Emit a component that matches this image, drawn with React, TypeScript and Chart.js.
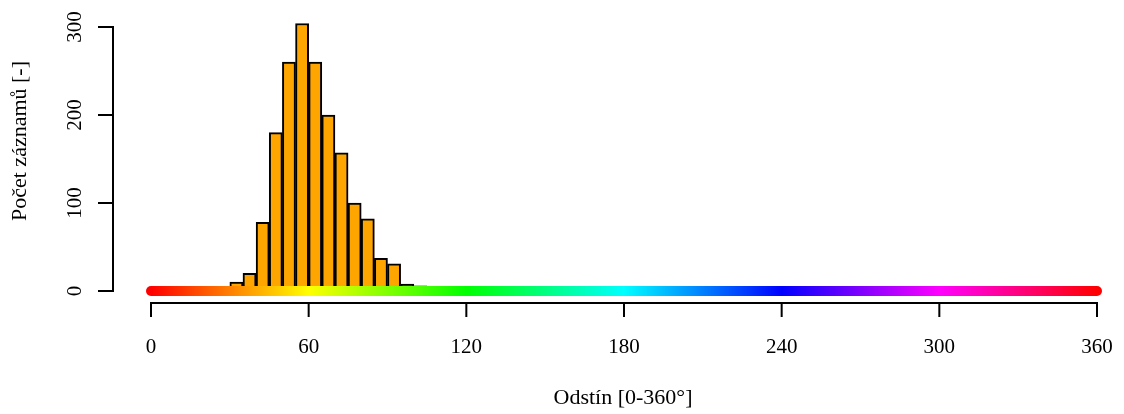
import React, { useEffect, useRef } from "react";
import { Chart, registerables } from "chart.js";

Chart.register(...registerables);

// Histogram bins (hue in degrees, bin width 5) and their counts
const binCenters = [32.5, 37.5, 42.5, 47.5, 52.5, 57.5, 62.5, 67.5, 72.5, 77.5, 82.5, 87.5, 92.5, 97.5, 102.5];
const counts = [10, 20, 78, 180, 260, 304, 260, 200, 157, 100, 82, 37, 31, 8, 6];

// Hue strip along zero
const hueStripX = [0, 360];
const hueStripY = [0, 0];
const hueStops = [0, 60, 120, 180, 240, 300, 360];

// Axis ticks
const xTicks = [0, 60, 120, 180, 240, 300, 360];
const yTicks = [0, 100, 200, 300];

const xTitle = "Odstín [0-360°]";
const yTitle = "Počet záznamů [-]";

const FONT = '21px "Liberation Serif", "Times New Roman", serif';
const TITLE_FONT = '22px "Liberation Serif", "Times New Roman", serif';

const axesPlugin = {
  id: "rAxes",
  afterDraw(chart: any) {
    const ctx = chart.ctx;
    const xs = chart.scales.x;
    const ys = chart.scales.y;
    const area = chart.chartArea;
    ctx.save();
    ctx.strokeStyle = "#000";
    ctx.fillStyle = "#000";
    ctx.lineWidth = 2;
    ctx.lineCap = "square";
    ctx.font = FONT;

    // Y axis
    const yx = area.left;
    const y0 = ys.getPixelForValue(yTicks[0]);
    const y1 = ys.getPixelForValue(yTicks[yTicks.length - 1]);
    ctx.beginPath();
    ctx.moveTo(yx, y0);
    ctx.lineTo(yx, y1);
    yTicks.forEach((t) => {
      const py = ys.getPixelForValue(t);
      ctx.moveTo(yx, py);
      ctx.lineTo(yx - 14, py);
    });
    ctx.stroke();
    ctx.textAlign = "center";
    ctx.textBaseline = "alphabetic";
    yTicks.forEach((t) => {
      const py = ys.getPixelForValue(t);
      ctx.save();
      ctx.translate(81, py);
      ctx.rotate(-Math.PI / 2);
      ctx.fillText(String(t), 0, 0);
      ctx.restore();
    });

    // X axis
    const xy = area.bottom;
    const x0 = xs.getPixelForValue(xTicks[0]);
    const x1 = xs.getPixelForValue(xTicks[xTicks.length - 1]);
    ctx.beginPath();
    ctx.moveTo(x0, xy);
    ctx.lineTo(x1, xy);
    xTicks.forEach((t) => {
      const px = xs.getPixelForValue(t);
      ctx.moveTo(px, xy);
      ctx.lineTo(px, xy + 13);
    });
    ctx.stroke();
    xTicks.forEach((t) => {
      const px = xs.getPixelForValue(t);
      ctx.fillText(String(t), px, 353);
    });

    // Titles
    ctx.font = TITLE_FONT;
    ctx.fillText(xTitle, 623, 404);
    ctx.save();
    ctx.translate(25.5, 141);
    ctx.rotate(-Math.PI / 2);
    ctx.fillText(yTitle, 0, 0);
    ctx.restore();

    ctx.restore();
  },
};

export default function App() {
  const ref = useRef<HTMLCanvasElement | null>(null);

  useEffect(() => {
    if (!ref.current) return;
    const chart = new Chart(ref.current, {
      type: "bar",
      data: {
        datasets: [
          {
            type: "line",
            data: hueStripX.map((x, i) => ({ x, y: hueStripY[i] })),
            borderWidth: 10,
            borderCapStyle: "round",
            pointRadius: 0,
            clip: false,
            order: 0,
            borderColor: (c: any) => {
              const ch = c.chart;
              if (!ch.chartArea) return "red";
              const xs = ch.scales.x;
              const a = xs.getPixelForValue(hueStops[0]);
              const b = xs.getPixelForValue(hueStops[hueStops.length - 1]);
              const g = ch.ctx.createLinearGradient(a, 0, b, 0);
              hueStops.forEach((h) => {
                g.addColorStop((h - hueStops[0]) / (hueStops[hueStops.length - 1] - hueStops[0]), `hsl(${h % 360}, 100%, 50%)`);
              });
              return g;
            },
          } as any,
          {
            type: "bar",
            data: binCenters.map((x, i) => ({ x, y: counts[i] })),
            backgroundColor: "#FFA500",
            borderColor: "#000",
            borderWidth: 2,
            borderSkipped: "bottom",
            barPercentage: 1,
            categoryPercentage: 1,
            order: 1,
          } as any,
        ],
      },
      options: {
        responsive: false,
        animation: false,
        layout: { padding: { left: 113, right: 27, top: 13, bottom: 111 } },
        plugins: { legend: { display: false }, tooltip: { enabled: false } },
        scales: {
          x: { type: "linear", offset: false, min: -14.461, max: 360, display: false },
          y: { type: "linear", min: -13.636, max: 315.909, display: false },
        },
      },
      plugins: [axesPlugin],
    });
    return () => chart.destroy();
  }, []);

  return (
    <div style={{ position: "fixed", left: 0, top: 0, width: 1124, height: 414, background: "#fff" }}>
      <canvas ref={ref} width={1124} height={414} style={{ display: "block" }} />
    </div>
  );
}
